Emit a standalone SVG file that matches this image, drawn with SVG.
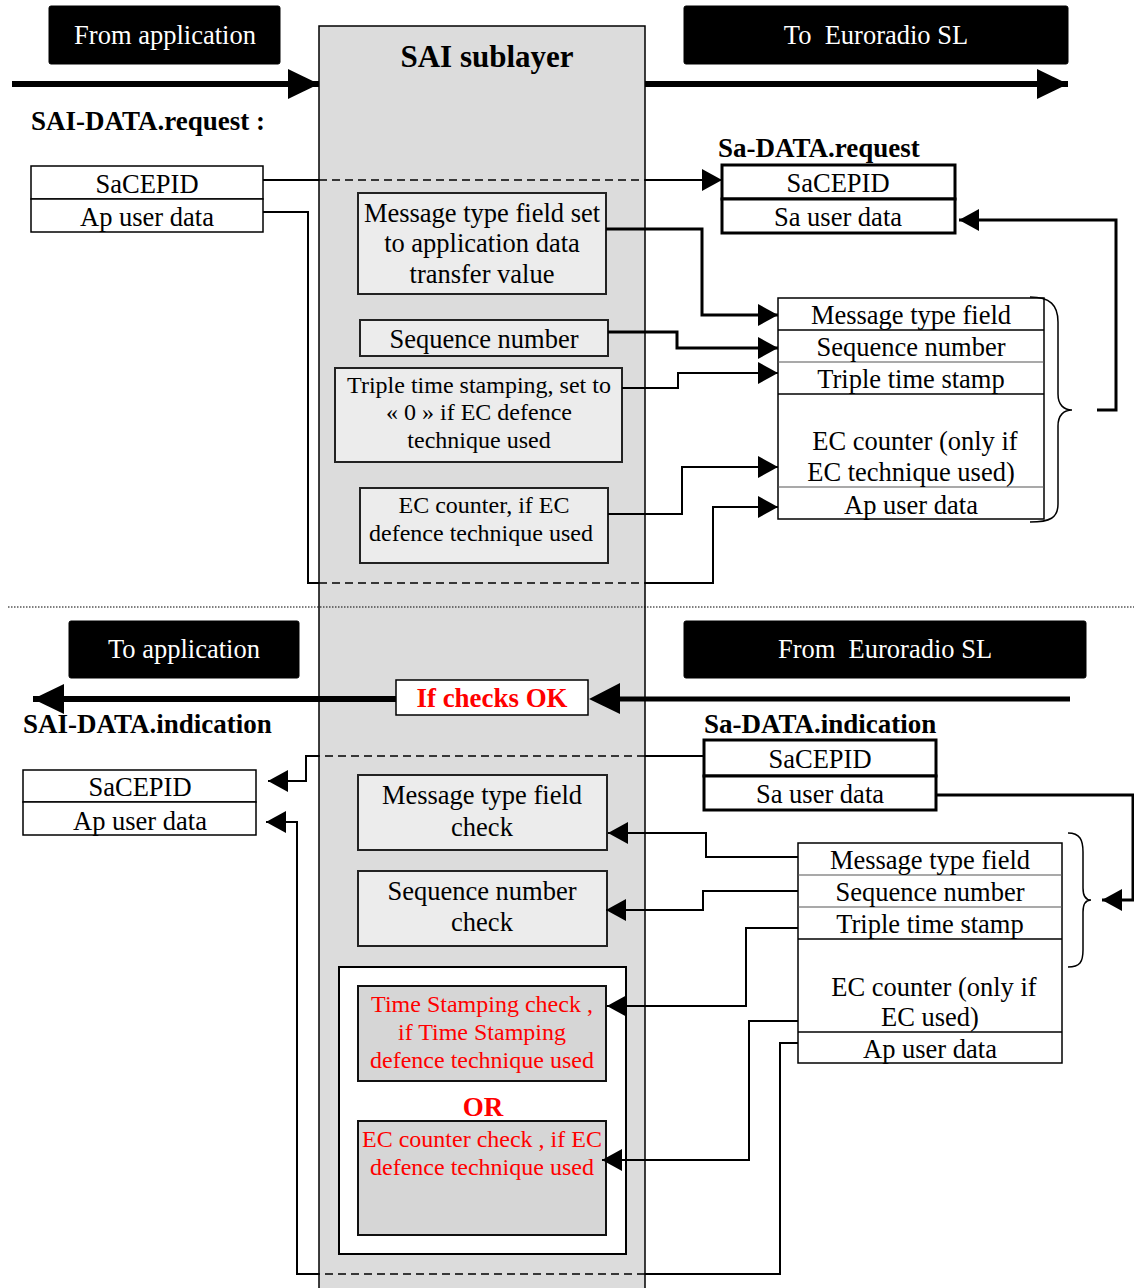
<svg xmlns="http://www.w3.org/2000/svg" width="1134" height="1288" viewBox="0 0 1134 1288">
<style>
  .t{font-family:"Liberation Serif","Times New Roman",serif;font-size:26.5px;text-anchor:middle;fill:#000}
  .s{font-size:24px}
  .w{fill:#fff}
  .b{font-weight:bold}
  .lb{font-size:27px}
  .r{fill:#f00}
  .l{text-anchor:start}
  .blk{fill:#000;stroke:#000}
  .box{fill:#ececec;stroke:#222;stroke-width:2}
  .rbox{fill:#d6d6d6;stroke:#111;stroke-width:2}
  .tbl{fill:#fff;stroke:#000;stroke-width:1.5}
  .thk{fill:#fff;stroke:#000;stroke-width:3}
  .ln{fill:none;stroke:#000;stroke-width:2}
  .lnb{fill:none;stroke:#000;stroke-width:3}
  .big{fill:none;stroke:#000;stroke-width:6}
  .dash{fill:none;stroke:#000;stroke-width:1.5;stroke-dasharray:8 5}
</style>
<defs>
  <marker id="ah" viewBox="0 0 20 22" refX="20" refY="11" markerWidth="20" markerHeight="22" markerUnits="userSpaceOnUse" orient="auto">
    <path d="M0,0 L20,11 L0,22 z" fill="#000"/>
  </marker>
  <marker id="bigah" viewBox="0 0 31 30" refX="31" refY="15" markerWidth="31" markerHeight="30" markerUnits="userSpaceOnUse" orient="auto">
    <path d="M0,0 L31,15 L0,30 z" fill="#000"/>
  </marker>
</defs>

<rect width="1134" height="1288" fill="#fff"/>

<!-- SAI sublayer column -->
<g id="sai-sublayer">
  <rect x="319" y="26" width="326" height="1275" fill="#dcdcdc" stroke="#000" stroke-width="1.5"/>
  <text class="t b" x="487" y="67" style="font-size:31px">SAI sublayer</text>
</g>

<!-- separator between request and indication halves -->
<line x1="8" y1="607" x2="1134" y2="607" stroke="#000" stroke-width="1" stroke-dasharray="1.5 1.5"/>

<!-- black headers -->
<g id="from-application">
  <rect class="blk" x="49" y="6" width="231" height="58" rx="2"/>
  <text class="t w" x="165" y="44">From application</text>
</g>
<g id="to-euroradio">
  <rect class="blk" x="684" y="6" width="384" height="58" rx="2"/>
  <text class="t w" x="876" y="44" xml:space="preserve">To  Euroradio SL</text>
</g>
<g id="to-application">
  <rect class="blk" x="69" y="621" width="230" height="57" rx="2"/>
  <text class="t w" x="184" y="658">To application</text>
</g>
<g id="from-euroradio">
  <rect class="blk" x="684" y="621" width="402" height="57" rx="2"/>
  <text class="t w" x="885" y="658" xml:space="preserve">From  Euroradio SL</text>
</g>

<!-- primitive labels -->
<text class="t b l lb" x="31" y="130">SAI-DATA.request :</text>
<text class="t b l lb" x="718" y="157">Sa-DATA.request</text>
<text class="t b l lb" x="23" y="733">SAI-DATA.indication</text>
<text class="t b l lb" x="704" y="733">Sa-DATA.indication</text>

<!-- request: application side -->
<g id="sai-request-table">
  <rect class="tbl" x="31" y="166" width="232" height="33"/>
  <rect class="tbl" x="31" y="199" width="232" height="33"/>
  <text class="t" x="147" y="193">SaCEPID</text>
  <text class="t" x="147" y="226">Ap user data</text>
</g>

<!-- request: Euroradio side -->
<g id="sa-request-table">
  <rect class="thk" x="722" y="165" width="233" height="34"/>
  <rect class="thk" x="722" y="199" width="233" height="34"/>
  <text class="t" x="838" y="192">SaCEPID</text>
  <text class="t" x="838" y="226">Sa user data</text>
</g>

<g id="sa-request-fields">
  <rect class="tbl" x="778" y="298" width="266" height="221"/>
  <line x1="778" y1="330" x2="1044" y2="330" stroke="#000" stroke-width="1.5"/>
  <line x1="778" y1="362" x2="1044" y2="362" stroke="#555" stroke-width="1.2"/>
  <line x1="778" y1="394" x2="1044" y2="394" stroke="#000" stroke-width="1.5"/>
  <line x1="778" y1="487" x2="1044" y2="487" stroke="#555" stroke-width="1.2"/>
  <text class="t" x="911" y="324">Message type field</text>
  <text class="t" x="911" y="356">Sequence number</text>
  <text class="t" x="911" y="388">Triple time stamp</text>
  <text class="t" x="915" y="450">EC counter (only if</text>
  <text class="t" x="911" y="481">EC technique used)</text>
  <text class="t" x="911" y="514">Ap user data</text>
  <path d="M1030,297 C1050,297 1058,305 1058,322 L1058,394 C1058,405 1064,410 1072,410 C1064,410 1058,415 1058,426 L1058,504 C1058,518 1050,522 1030,522" fill="none" stroke="#000" stroke-width="1.5"/>
</g>

<!-- request: processing inside SAI -->
<g id="req-msg-type">
  <rect class="box" x="358" y="193" width="248" height="101"/>
  <text class="t" x="482" y="222">Message type field set</text>
  <text class="t" x="482" y="252">to application data</text>
  <text class="t" x="482" y="283">transfer value</text>
</g>
<g id="req-seq">
  <rect class="box" x="360" y="320" width="248" height="36"/>
  <text class="t" x="484" y="348">Sequence number</text>
</g>
<g id="req-tts">
  <rect class="box" x="335" y="368" width="287" height="94"/>
  <text class="t s" x="479" y="393">Triple time stamping, set to</text>
  <text class="t s" x="479" y="420">« 0 » if EC defence</text>
  <text class="t s" x="479" y="448">technique used</text>
</g>
<g id="req-ec">
  <rect class="box" x="360" y="488" width="248" height="75"/>
  <text class="t s" x="484" y="513">EC counter, if EC</text>
  <text class="t s" x="481" y="541">defence technique used</text>
</g>

<!-- indication: Euroradio side -->
<g id="sa-indication-table">
  <rect class="thk" x="704" y="740" width="232" height="36"/>
  <rect class="thk" x="704" y="776" width="232" height="34"/>
  <text class="t" x="820" y="768">SaCEPID</text>
  <text class="t" x="820" y="803">Sa user data</text>
</g>

<g id="sa-indication-fields">
  <rect class="tbl" x="798" y="843" width="264" height="220"/>
  <line x1="798" y1="875" x2="1062" y2="875" stroke="#555" stroke-width="1.2"/>
  <line x1="798" y1="907" x2="1062" y2="907" stroke="#555" stroke-width="1.2"/>
  <line x1="798" y1="939" x2="1062" y2="939" stroke="#000" stroke-width="1.5"/>
  <line x1="798" y1="1032" x2="1062" y2="1032" stroke="#000" stroke-width="1.5"/>
  <text class="t" x="930" y="869">Message type field</text>
  <text class="t" x="930" y="901">Sequence number</text>
  <text class="t" x="930" y="933">Triple time stamp</text>
  <text class="t" x="934" y="996">EC counter (only if</text>
  <text class="t" x="930" y="1026">EC used)</text>
  <text class="t" x="930" y="1058">Ap user data</text>
  <path d="M1068,833 C1080,833 1083,840 1083,852 L1083,888 C1083,896 1086,900 1091,900 C1086,900 1083,904 1083,912 L1083,950 C1083,962 1080,967 1068,967" fill="none" stroke="#000" stroke-width="1.5"/>
</g>

<!-- indication: application side -->
<g id="sai-indication-table">
  <rect class="tbl" x="23" y="770" width="233" height="32"/>
  <rect class="tbl" x="23" y="802" width="233" height="33"/>
  <text class="t" x="140" y="796">SaCEPID</text>
  <text class="t" x="140" y="830">Ap user data</text>
</g>

<!-- indication: checks inside SAI -->
<g id="ind-msg-check">
  <rect class="box" x="358" y="775" width="249" height="75"/>
  <text class="t" x="482" y="804">Message type field</text>
  <text class="t" x="482" y="836">check</text>
</g>
<g id="ind-seq-check">
  <rect class="box" x="358" y="871" width="249" height="75"/>
  <text class="t" x="482" y="900">Sequence number</text>
  <text class="t" x="482" y="931">check</text>
</g>
<g id="ind-defence-checks">
  <rect x="339" y="967" width="287" height="287" fill="#fff" stroke="#000" stroke-width="2"/>
  <g id="ind-ts-check">
    <rect class="rbox" x="358" y="986" width="248" height="95"/>
    <text class="t s r" x="482" y="1012">Time Stamping check ,</text>
    <text class="t s r" x="482" y="1040">if Time Stamping</text>
    <text class="t s r" x="482" y="1068">defence technique used</text>
  </g>
  <text class="t b r lb" x="483" y="1116">OR</text>
  <g id="ind-ec-check">
    <rect class="rbox" x="358" y="1121" width="248" height="114"/>
    <text class="t s r" x="482" y="1147">EC counter check , if EC</text>
    <text class="t s r" x="482" y="1175">defence technique used</text>
  </g>
</g>

<!-- connectors -->
<g id="connectors">
  <!-- main flows -->
  <line class="big" x1="12" y1="84" x2="319" y2="84" marker-end="url(#bigah)"/>
  <line class="big" x1="645" y1="84" x2="1068" y2="84" marker-end="url(#bigah)"/>
  <line x1="1070" y1="699" x2="620" y2="699" stroke="#000" stroke-width="5"/>
  <path d="M620,683 L589,699 L620,714 z" fill="#000"/>
  <line class="big" x1="396" y1="699" x2="33" y2="699" marker-end="url(#bigah)"/>

  <!-- request -->
  <line class="ln" x1="263" y1="180" x2="319" y2="180"/>
  <line class="dash" x1="319" y1="180" x2="645" y2="180"/>
  <line class="ln" x1="645" y1="180" x2="722" y2="180" marker-end="url(#ah)"/>

  <polyline class="ln" points="263,212 308,212 308,583 319,583"/>
  <line class="dash" x1="319" y1="583" x2="645" y2="583"/>
  <polyline class="ln" points="645,583 713,583 713,507 778,507" marker-end="url(#ah)"/>

  <polyline class="lnb" points="606,229 702,229 702,315 778,315" marker-end="url(#ah)"/>
  <polyline class="lnb" points="608,332 677,332 677,348 778,348" marker-end="url(#ah)"/>
  <polyline class="ln" points="622,388 678,388 678,373 778,373" marker-end="url(#ah)"/>
  <polyline class="ln" points="608,514 682,514 682,467 778,467" marker-end="url(#ah)"/>

  <polyline class="lnb" points="1097,410 1116,410 1116,220 959,220" marker-end="url(#ah)"/>

  <!-- indication -->
  <line class="ln" x1="704" y1="756" x2="645" y2="756"/>
  <line class="dash" x1="645" y1="756" x2="319" y2="756"/>
  <polyline class="ln" points="319,756 306,756 306,781 268,781" marker-end="url(#ah)"/>

  <polyline class="ln" points="798,1043 780,1043 780,1274 645,1274"/>
  <line class="dash" x1="645" y1="1274" x2="319" y2="1274"/>
  <polyline class="ln" points="319,1274 297,1274 297,822 266,822" marker-end="url(#ah)"/>

  <polyline class="lnb" points="936,795 1133,795 1133,900 1102,900" marker-end="url(#ah)"/>

  <polyline class="ln" points="798,857 706,857 706,833 608,833" marker-end="url(#ah)"/>
  <polyline class="ln" points="798,891 703,891 703,910 606,910" marker-end="url(#ah)"/>
  <polyline class="ln" points="798,928 746,928 746,1006 607,1006" marker-end="url(#ah)"/>
  <polyline class="ln" points="798,1021 749,1021 749,1160 602,1160" marker-end="url(#ah)"/>
</g>

<!-- gate on the indication flow -->
<g id="if-checks-ok">
  <rect x="396" y="680" width="192" height="35" fill="#fff" stroke="#000" stroke-width="1.5"/>
  <text class="t b r" x="492" y="707" textLength="151" lengthAdjust="spacingAndGlyphs">If checks OK</text>
</g>
</svg>
